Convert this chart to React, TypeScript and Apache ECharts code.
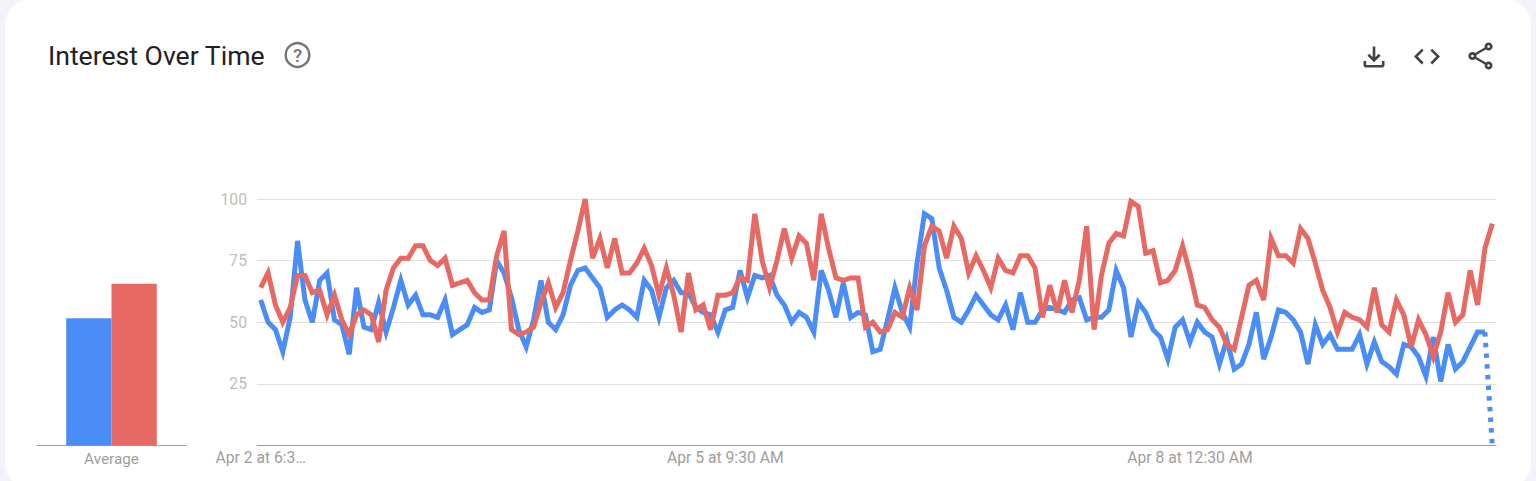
import React, { useEffect, useRef } from "react";
import * as echarts from "echarts";

const title = "Interest Over Time";
const tickLabels: Record<number, string> = {
  0: "Apr 2 at 6:3…",
  63: "Apr 5 at 9:30 AM",
  126: "Apr 8 at 12:30 AM",
};
const blueValues = [
  59, 50, 47, 38, 52, 83, 59, 50, 67, 70,
  51, 49, 37, 64, 48, 47, 58, 46, 56, 67,
  57, 61, 53, 53, 52, 59, 45, 47, 49, 56,
  54, 55, 75, 70, 60, 47, 40, 51, 67, 50,
  47, 53, 65, 71, 72, 68, 64, 52, 55, 57,
  55, 52, 67, 63, 52, 64, 67, 62, 62, 56,
  54, 53, 46, 55, 56, 71, 60, 69, 68, 69,
  61, 57, 50, 54, 52, 46, 71, 63, 52, 66,
  52, 54, 53, 38, 39, 51, 64, 54, 48, 74,
  94, 92, 72, 63, 52, 50, 55, 61, 57, 53,
  51, 57, 47, 62, 50, 50, 55, 56, 55, 54,
  59, 60, 51, 52, 52, 55, 71, 64, 44, 58,
  54, 47, 44, 35, 48, 51, 42, 50, 46, 44,
  33, 43, 31, 33, 41, 54, 35, 44, 55, 54,
  51, 46, 33, 49, 41, 45, 39, 39, 39, 45,
  33, 42, 34, 32, 29, 41, 40, 36, 28, 44,
  26, 41, 31, 34, 40, 46, 46, 0,
];
const redValues = [
  64, 70, 57, 50, 56, 69, 69, 62, 63, 53,
  61, 51, 45, 53, 55, 53, 42, 63, 72, 76,
  76, 81, 81, 75, 73, 76, 65, 66, 67, 62,
  59, 59, 77, 87, 47, 45, 46, 48, 58, 66,
  56, 62, 75, 87, 100, 76, 84, 72, 84, 70,
  70, 74, 80, 73, 61, 72, 61, 46, 70, 55,
  57, 47, 61, 61, 62, 68, 67, 94, 75, 64,
  75, 88, 76, 85, 82, 67, 94, 80, 68, 67,
  68, 68, 48, 50, 46, 47, 54, 52, 64, 55,
  81, 89, 87, 76, 89, 84, 70, 77, 71, 64,
  76, 71, 70, 77, 77, 72, 52, 65, 54, 67,
  54, 67, 89, 47, 69, 82, 86, 85, 99, 97,
  78, 79, 66, 67, 71, 81, 70, 57, 56, 51,
  48, 41, 39, 52, 65, 67, 59, 84, 77, 77,
  74, 88, 84, 74, 63, 56, 46, 54, 52, 51,
  48, 64, 49, 46, 59, 53, 40, 51, 45, 36,
  46, 62, 50, 53, 71, 57, 80, 90,
];
const averageCategory = ["Average"];
const blueAverage = [51.6];
const redAverage = [65.6];

const BLUE = "#4a8df6";
const RED = "#e66a63";

const partialFrom = blueValues.length - 2;
const categories = blueValues.map((_, i) => tickLabels[i] ?? "");
const blueSolid = blueValues.map((v, i) => (i <= partialFrom ? v : null));
const bluePartial = blueValues.map((v, i) => (i >= partialFrom ? v : null));

echarts.graphic.registerShape(
  "iconDownload",
  echarts.graphic.extendPath(
    "M18 15v3H6v-3H4v3c0 1.1.9 2 2 2h12c1.1 0 2-.9 2-2v-3h-2zm-1-4l-1.41-1.41L13 12.17V4h-2v8.17L8.41 9.59 7 11l5 5 5-5z",
    {}
  )
);
echarts.graphic.registerShape(
  "iconCode",
  echarts.graphic.extendPath(
    "M9.4 16.6L4.8 12l4.6-4.6L8 6l-6 6 6 6 1.4-1.4zm5.2 0l4.6-4.6-4.6-4.6L16 6l6 6-6 6-1.4-1.4z",
    {}
  )
);
echarts.graphic.registerShape(
  "iconShare",
  echarts.graphic.extendPath(
    "M18 16.08c-.76 0-1.44.3-1.96.77L8.91 12.7c.05-.23.09-.46.09-.7s-.04-.47-.09-.7l7.05-4.11c.54.5 1.25.81 2.04.81 1.66 0 3-1.34 3-3s-1.34-3-3-3-3 1.34-3 3c0 .24.04.47.09.7L8.04 9.81C7.5 9.31 6.79 9 6 9c-1.66 0-3 1.34-3 3s1.34 3 3 3c.79 0 1.5-.31 2.04-.81l7.12 4.16c-.05.21-.08.43-.08.65 0 1.61 1.31 2.92 2.92 2.92 1.61 0 2.92-1.31 2.92-2.92s-1.31-2.92-2.92-2.92zM18 4c.55 0 1 .45 1 1s-.45 1-1 1-1-.45-1-1 .45-1 1-1zM6 13c-.55 0-1-.45-1-1s.45-1 1-1 1 .45 1 1-.45 1-1 1zm12 7.02c-.55 0-1-.45-1-1s.45-1 1-1 1 .45 1 1-.45 1-1 1z",
    {}
  )
);

export default function App() {
  const ref = useRef<HTMLDivElement>(null);
  useEffect(() => {
    document.body.style.margin = "0";
    document.body.style.overflow = "hidden";
    const chart = echarts.init(ref.current!, null, { renderer: "svg" });
    const font = "Roboto, sans-serif";
    const lineBase = {
      type: "line",
      xAxisIndex: 1,
      yAxisIndex: 1,
      symbol: "none",
      silent: true,
      connectNulls: false,
    };
    chart.setOption({
      animation: false,
      backgroundColor: "#f1f3f9",
      tooltip: { show: false },
      grid: [
        { left: 37, width: 149, top: 199, height: 246.5 },
        { left: 257, width: 1239, top: 199, height: 246.5 },
      ],
      xAxis: [
        {
          type: "category",
          gridIndex: 0,
          data: averageCategory,
          axisLine: { show: true, lineStyle: { color: "#a0a0a0", width: 1 } },
          axisTick: { show: false },
          axisLabel: { color: "#9e9e9e", fontSize: 15.3, fontFamily: font, margin: 6 },
        },
        {
          type: "category",
          gridIndex: 1,
          data: categories,
          boundaryGap: true,
          axisLine: { show: true, lineStyle: { color: "#a0a0a0", width: 1 } },
          axisTick: { show: false },
          axisLabel: {
            color: "#9e9e9e",
            fontSize: 15.7,
            fontFamily: font,
            margin: 4,
            hideOverlap: false,
            interval: (i: number) => tickLabels[i] !== undefined,
          },
        },
      ],
      yAxis: [
        { type: "value", gridIndex: 0, min: 0, max: 100, show: false },
        {
          type: "value",
          gridIndex: 1,
          min: 0,
          max: 100,
          interval: 25,
          axisLine: { show: false },
          axisTick: { show: false },
          axisLabel: {
            color: "#bdbdbd",
            fontSize: 15.7,
            fontFamily: font,
            margin: 10,
            formatter: (v: number) => (v === 0 ? "" : String(v)),
          },
          splitLine: { lineStyle: { color: "#e0e0e0", width: 1 } },
        },
      ],
      series: [
        {
          type: "bar",
          xAxisIndex: 0,
          yAxisIndex: 0,
          data: blueAverage,
          barWidth: 45.3,
          barGap: 0,
          silent: true,
          itemStyle: { color: BLUE },
        },
        {
          type: "bar",
          xAxisIndex: 0,
          yAxisIndex: 0,
          data: redAverage,
          barWidth: 45.3,
          barGap: 0,
          silent: true,
          itemStyle: { color: RED },
        },
        {
          ...lineBase,
          data: blueSolid,
          lineStyle: { color: BLUE, width: 5, join: "miter", miterLimit: 4 },
        },
        {
          ...lineBase,
          data: bluePartial,
          lineStyle: { color: BLUE, width: 5, type: [4.5, 6.2], join: "miter" },
        },
        {
          ...lineBase,
          data: redValues,
          lineStyle: { color: RED, width: 5, join: "miter", miterLimit: 4 },
        },
      ],
      graphic: [
        {
          type: "rect",
          z: -1,
          silent: true,
          shape: { x: 5, y: -1, width: 1526, height: 490, r: 26 },
          style: { fill: "#ffffff" },
        },
        {
          type: "text",
          x: 48,
          y: 42,
          silent: true,
          style: { text: title, fill: "#202124", font: `400 26.6px ${font}` },
        },
        {
          type: "circle",
          silent: true,
          shape: { cx: 297.5, cy: 55, r: 11.8 },
          style: { fill: "none", stroke: "#757575", lineWidth: 2.4 },
        },
        {
          type: "text",
          x: 297.5,
          y: 55,
          silent: true,
          style: {
            text: "?",
            fill: "#757575",
            font: `500 19px ${font}`,
            align: "center",
            verticalAlign: "middle",
          },
        },
        { type: "iconDownload", silent: true, x: 1358.3, y: 41.3, scaleX: 1.31, scaleY: 1.31, style: { fill: "#424242" } },
        { type: "iconCode", silent: true, x: 1411.4, y: 41, scaleX: 1.3, scaleY: 1.3, style: { fill: "#424242" } },
        { type: "iconShare", silent: true, x: 1464.3, y: 39.8, scaleX: 1.35, scaleY: 1.35, style: { fill: "#424242" } },
      ],
    });
    return () => chart.dispose();
  }, []);
  return <div ref={ref} style={{ width: 1536, height: 481 }} />;
}
